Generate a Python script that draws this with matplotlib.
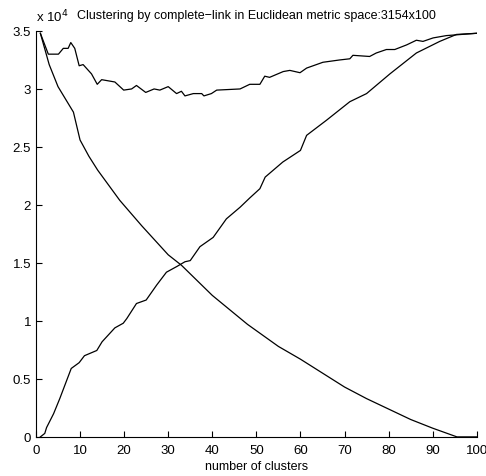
import matplotlib
matplotlib.use("Agg")
import matplotlib.pyplot as plt

plt.rcParams['font.family'] = ['Liberation Sans', 'DejaVu Sans']

# curva decreciente
dec_x = [1, 3, 5, 8.5, 10, 12, 14, 19, 24, 30, 33, 40, 48, 55, 60, 65, 70, 75, 80, 85, 90, 95.5, 100]
dec_y = [3.48, 3.21, 3.02, 2.80, 2.56, 2.42, 2.30, 2.04, 1.82, 1.57, 1.48, 1.22, 0.97, 0.78, 0.67, 0.55, 0.43, 0.33, 0.24, 0.15, 0.075, 0.0, 0.0]

# curva creciente
inc_x = [1, 2, 2.4, 4, 5.4, 7, 8, 9.8, 11, 13.8, 15, 17.9, 19.8, 20.6, 22.8, 25, 27.4, 29.6, 32, 33.8, 35, 37.2, 40.2, 43.2,
         46.3, 48.5, 50.8, 52, 56, 60, 61.4, 65.9, 71.2, 75, 80.3, 86.3, 91.6, 95.4, 100]
inc_y = [0.0, 0.03, 0.08, 0.2, 0.33, 0.49, 0.59, 0.64, 0.70, 0.745, 0.82, 0.94, 0.98, 1.02, 1.15, 1.18, 1.31, 1.42, 1.47, 1.51, 1.52, 1.64, 1.72, 1.88,
         1.98, 2.06, 2.14, 2.24, 2.37, 2.47, 2.60, 2.73, 2.89, 2.96, 3.13, 3.31, 3.41, 3.47, 3.48]

# curva superior
top_x = [1, 2.8, 5.1, 6.2, 7.3, 7.9, 8.8, 9.8, 10.7, 12.6, 13.9, 14.9, 17.9, 19.9, 21.7, 22.8, 24.9, 26.8, 28.1, 30, 31.9, 33, 33.8,
         35.7, 37.6, 38.1, 39.8, 41, 46.3, 48.5, 50.8, 51.9, 53, 56.1, 57.6, 59.9, 61.4, 65.1, 68.9, 71.2, 71.9, 75.7, 77.2, 79.5,
         81.4, 84.1, 86.3, 87.8, 90.1, 93.1, 100]
top_y = [3.48, 3.30, 3.30, 3.35, 3.35, 3.40, 3.35, 3.20, 3.21, 3.13, 3.04, 3.08, 3.06, 2.99, 3.00, 3.03, 2.97, 3.00, 2.99, 3.02, 2.96, 2.98, 2.94,
         2.96, 2.96, 2.94, 2.96, 2.99, 3.00, 3.04, 3.04, 3.11, 3.10, 3.15, 3.16, 3.14, 3.18, 3.23, 3.25, 3.26, 3.29, 3.28, 3.31, 3.34,
         3.34, 3.38, 3.42, 3.41, 3.44, 3.46, 3.48]

fig = plt.figure(figsize=(4.86, 4.77), dpi=100)
ax = fig.add_axes([0.074, 0.082, 0.907, 0.851])

for xs, ys in [(dec_x, dec_y), (inc_x, inc_y), (top_x, top_y)]:
    ax.plot(xs, [v * 1e4 for v in ys], color='black', lw=0.9)

ax.set_xlim(0, 100)
ax.set_ylim(0, 3.5e4)
ax.set_xticks(range(0, 101, 10))
ax.set_yticks([i * 5000 for i in range(8)])
ax.set_yticklabels(['0', '0.5', '1', '1.5', '2', '2.5', '3', '3.5'])
ax.spines['top'].set_visible(False)
ax.spines['right'].set_visible(False)
ax.tick_params(direction='in', length=4, labelsize=9.5, width=0.8)
ax.tick_params(axis='x', pad=5)

ax.set_xlabel('number of clusters', fontsize=9, labelpad=3)
ax.set_title('Clustering by complete\u2212link in Euclidean metric space:3154x100', fontsize=9, pad=9)
fig.text(0.074, 0.948, r'x 10$^4$', fontsize=9.5, ha='left', va='bottom')

fig.savefig('out.png', dpi=100)
